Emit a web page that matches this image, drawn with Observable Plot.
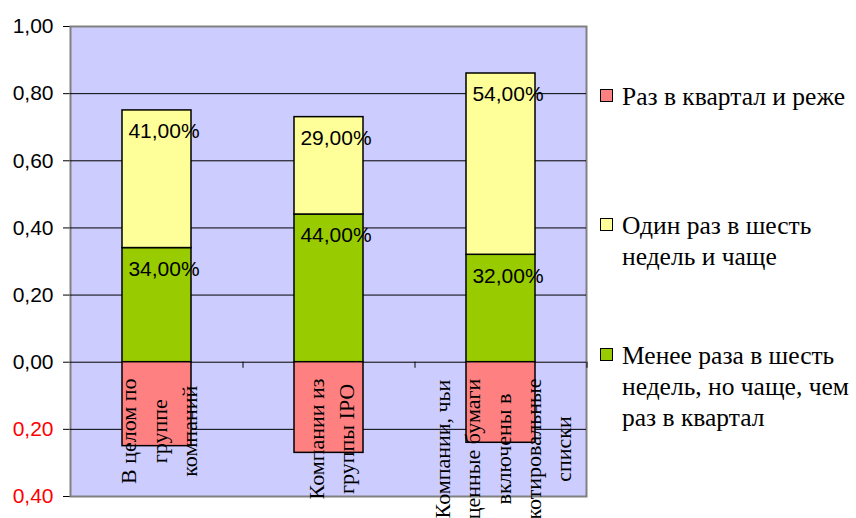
<!DOCTYPE html>
<html>
<head>
<meta charset="utf-8">
<script src="https://cdn.jsdelivr.net/npm/d3@7"></script>
<script src="https://cdn.jsdelivr.net/npm/@observablehq/plot@0.6"></script>
<style>
  html, body { margin: 0; padding: 0; background: #fff; overflow: hidden; }
  #wrap { position: relative; width: 856px; height: 518px; }
  #legend { position: absolute; left: 600px; top: 0; font-family: "Liberation Serif", "Times New Roman", serif; font-size: 25.5px; line-height: 31px; color: #000; }
  .item { position: absolute; left: 0; width: 256px; }
  .sw { position: absolute; left: 0; width: 11px; height: 11px; border: 1.5px solid #000; }
  .lab { position: absolute; left: 22px; white-space: nowrap; }
</style>
</head>
<body>
<div id="wrap"><div id="chart"></div><div id="legend"></div></div>
<script>
// ---- data ----
const categories = [
  "В целом по\nгруппе\nкомпаний",
  "Компании из\nгруппы IPO",
  "Компании, чьи\nценные бумаги\nвключены в\nкотировальные\nсписки"
];
const seriesNames = [
  "Менее раза в шесть недель, но чаще, чем раз в квартал",
  "Один раз в шесть недель и чаще",
  "Раз в квартал и реже"
];
const lessThanSixWeeks = [0.34, 0.44, 0.32];   // green
const sixWeeksOrMore   = [0.41, 0.29, 0.54];   // yellow
const quarterOrLess    = [-0.25, -0.27, -0.24]; // red (drawn below zero)
const yTicks = [-0.4, -0.2, 0, 0.2, 0.4, 0.6, 0.8, 1.0];
const legendLabels = [
  "Раз в квартал и реже",
  "Один раз в шесть\nнедель и чаще",
  "Менее раза в шесть\nнедель, но чаще, чем\nраз в квартал"
];
const seriesColors = ["#99CC00", "#FFFF99", "#FF8080"];

// ---- table ----
const rows = [];
const seriesArrays = [lessThanSixWeeks, sixWeeksOrMore, quarterOrLess];
seriesArrays.forEach((arr, si) => arr.forEach((v, ci) => rows.push({cat: categories[ci], series: seriesNames[si], value: v, pos: si < 2})));

const fmtTick = d => Math.abs(d).toFixed(2).replace(".", ",");
const fmtPct = d => (d * 100).toFixed(2).replace(".", ",") + "%";

// category labels: lines centred in a block whose top is just below the zero line
const catFont = "'Liberation Serif', 'Times New Roman', serif";
const catSize = 22;
const ctx = document.createElement("canvas").getContext("2d");
ctx.font = `${catSize}px ${catFont}`;
const catMarks = categories.map(c => {
  const w = Math.max(...c.split("\n").map(s => ctx.measureText(s).width));
  return Plot.text([c], {x: d => d, text: d => d, rotate: -90, frameAnchor: "bottom",
    dy: -(118 - w / 2), textAnchor: "middle", lineAnchor: "middle", lineHeight: 1.38,
    fontFamily: catFont, fontSize: catSize, fill: "#000"});
});

const chart = Plot.plot({
  width: 856,
  height: 518,
  marginLeft: 70,
  marginRight: 270,
  marginTop: 26,
  marginBottom: 22,
  style: {fontFamily: "'Liberation Sans', Arial, sans-serif", fontSize: "21px", background: "transparent", overflow: "visible"},
  x: {domain: categories, paddingInner: 0.6, paddingOuter: 0.3, axis: null},
  y: {domain: [-0.4, 1], ticks: yTicks, tickSize: 7, tickFormat: () => "", line: true, label: null},
  color: {domain: seriesNames, range: seriesColors},
  marks: [
    Plot.frame({fill: "#CCCCFF", stroke: "#808080", strokeWidth: 2}),
    Plot.ruleY(yTicks.filter(d => d > -0.4 && d < 1), {stroke: "#000", strokeWidth: 1}),
    Plot.ruleX(categories, {x: d => d, y1: 0, y2: -0.018, dx: 86, stroke: "#000", strokeWidth: 1}),
    Plot.barY(rows, Plot.stackY({x: "cat", y: "value", fill: "series", stroke: "#000", strokeWidth: 1.5})),
    Plot.text(rows, Plot.stackY2({filter: d => d.pos, x: "cat", y: "value", text: d => fmtPct(d.value), dy: 21, dx: 7, fill: "#000", fontSize: 21})),
    ...catMarks,
    Plot.text(yTicks.filter(d => d >= 0), {y: d => d, text: fmtTick, frameAnchor: "left", textAnchor: "end", dx: -17, fill: "#000", fontSize: 21}),
    Plot.text(yTicks.filter(d => d < 0), {y: d => d, text: fmtTick, frameAnchor: "left", textAnchor: "end", dx: -17, fill: "#FF0000", fontSize: 21})
  ]
});
document.getElementById("chart").appendChild(chart);

// ---- legend ----
const legendTops = [81, 210, 340];
const legendSeries = [2, 1, 0];
const legend = document.getElementById("legend");
legendLabels.forEach((lab, i) => {
  const item = document.createElement("div");
  item.className = "item";
  item.style.top = legendTops[i] + "px";
  const sw = document.createElement("div");
  sw.className = "sw";
  sw.style.top = "8px";
  sw.style.background = seriesColors[legendSeries[i]];
  const t = document.createElement("div");
  t.className = "lab";
  t.innerHTML = lab.split("\n").join("<br>");
  item.appendChild(sw);
  item.appendChild(t);
  legend.appendChild(item);
});
</script>
</body>
</html>
